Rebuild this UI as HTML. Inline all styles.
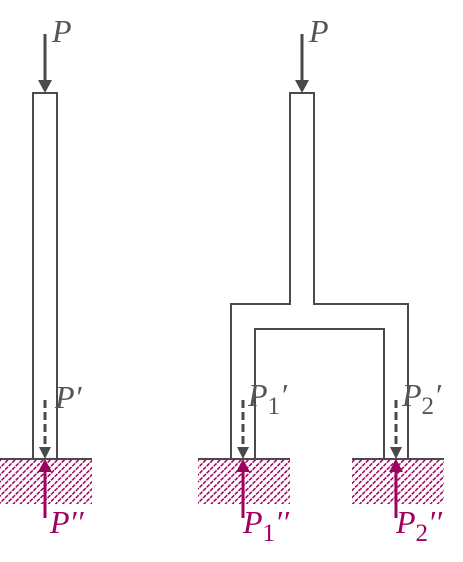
<!DOCTYPE html>
<html><head><meta charset="utf-8"><style>
html,body{margin:0;padding:0;background:#fff;}
svg{display:block;}
.lbl{font-family:"Liberation Serif",serif;font-style:italic;font-size:32px;}
.sub{font-family:"Liberation Serif",serif;font-style:normal;font-size:25px;}
</style></head><body>
<svg width="463" height="562" viewBox="0 0 463 562" xmlns="http://www.w3.org/2000/svg">
<defs>
<pattern id="hatch" patternUnits="userSpaceOnUse" width="5" height="5" patternTransform="rotate(45)">
<rect width="5" height="5" fill="#fff"/>
<line x1="0" y1="0" x2="0" y2="5" stroke="#a0005f" stroke-width="3" stroke-dasharray="3.5 1"/>
</pattern>
</defs>
<g fill="none" stroke="#4a4a4a" stroke-width="2">
<path d="M33 459 V93 H57 V459"/>
<path d="M231 459 V304 H290 V93 H314 V304 H408 V459"/>
<path d="M255 459 V329 H384 V459"/>
</g>
<rect x="0" y="459" width="92" height="45" fill="url(#hatch)"/>
<rect x="198" y="459" width="92" height="45" fill="url(#hatch)"/>
<rect x="352" y="459" width="92" height="45" fill="url(#hatch)"/>
<g stroke="#4a4a4a" stroke-width="2">
<line x1="0" y1="459" x2="92" y2="459"/>
<line x1="198" y1="459" x2="290" y2="459"/>
<line x1="352" y1="459" x2="444" y2="459"/>
</g>
<g>
<line x1="45" y1="34" x2="45" y2="82" stroke="#4a4a4a" stroke-width="3"/>
<polygon points="38,80 52,80 45,93" fill="#4a4a4a"/>
</g>
<g>
<line x1="302" y1="34" x2="302" y2="82" stroke="#4a4a4a" stroke-width="3"/>
<polygon points="295,80 309,80 302,93" fill="#4a4a4a"/>
</g>
<g stroke="#4a4a4a" stroke-width="3" stroke-dasharray="8 4">
<line x1="45" y1="400" x2="45" y2="448"/>
<line x1="243" y1="400" x2="243" y2="448"/>
<line x1="396" y1="400" x2="396" y2="448"/>
</g>
<g fill="#4a4a4a">
<polygon points="39,447 51,447 45,459"/>
<polygon points="237,447 249,447 243,459"/>
<polygon points="390,447 402,447 396,459"/>
</g>
<g stroke="#a0005f" stroke-width="3">
<line x1="45" y1="518" x2="45" y2="470"/>
<line x1="243" y1="518" x2="243" y2="470"/>
<line x1="396" y1="518" x2="396" y2="470"/>
</g>
<g fill="#a0005f">
<polygon points="38,472 52,472 45,459"/>
<polygon points="236,472 250,472 243,459"/>
<polygon points="389,472 403,472 396,459"/>
</g>
<g fill="#555">
<text class="lbl" x="52" y="42">P</text>
<text class="lbl" x="309" y="42">P</text>
<text class="lbl" x="55" y="408">P′</text>
<text class="lbl" x="248" y="406">P<tspan class="sub" dy="8">1</tspan><tspan dy="-8">′</tspan></text>
<text class="lbl" x="402" y="406">P<tspan class="sub" dy="8">2</tspan><tspan dy="-8">′</tspan></text>
</g>
<g fill="#a0005f">
<text class="lbl" x="50" y="533">P′′</text>
<text class="lbl" x="243" y="533">P<tspan class="sub" dy="8">1</tspan><tspan dy="-8">′′</tspan></text>
<text class="lbl" x="396" y="533">P<tspan class="sub" dy="8">2</tspan><tspan dy="-8">′′</tspan></text>
</g>
</svg>
</body></html>
